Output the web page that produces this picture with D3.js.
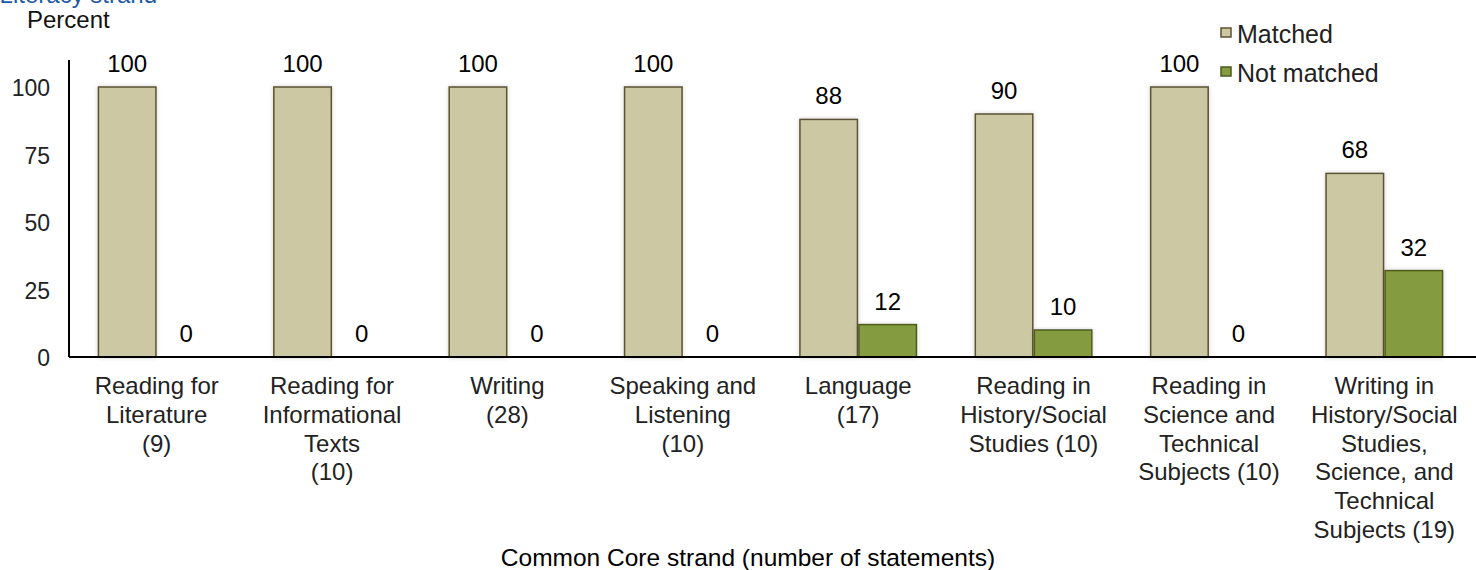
<!DOCTYPE html>
<html><head><meta charset="utf-8">
<script src="https://cdn.jsdelivr.net/npm/d3@7"></script>
<style>body{margin:0;background:#fff}svg{display:block}text{font-family:"Liberation Sans",Arial,Helvetica,sans-serif;fill:#111}</style>
</head><body><svg id="c" width="1476" height="570"></svg>
<script>
const categories = [
  ["Reading for","Literature","(9)"],
  ["Reading for","Informational","Texts","(10)"],
  ["Writing","(28)"],
  ["Speaking and","Listening","(10)"],
  ["Language","(17)"],
  ["Reading in","History/Social","Studies (10)"],
  ["Reading in","Science and","Technical","Subjects (10)"],
  ["Writing in","History/Social","Studies,","Science, and","Technical","Subjects (19)"]
];
const seriesNames = ["Matched","Not matched"];
const matched =    [100,100,100,100,88,90,100,68];
const notMatched = [0,0,0,0,12,10,0,32];
const yTicks = [0,25,50,75,100];

(function(){
const fills = ["#cdc8a4","#859b3f"];
const strokes = ["#5b5230","#4e5a1f"];

const svg = d3.select("#c");
const mLeft = 69, mRight = 1472, mTop = 60, base = 357;
const x = d3.scaleBand().domain(d3.range(categories.length)).range([mLeft,mRight]).paddingInner(0).paddingOuter(0);
const inner = d3.scaleBand().domain([0,1]).range([0, 118]);
const off = (x.bandwidth()-118)/2;
const y = d3.scaleLinear().domain([0,100]).range([base, 87]);

const defs = svg.append("defs");
const f = defs.append("filter").attr("id","sh").attr("x","-20%").attr("y","-10%").attr("width","140%").attr("height","120%");
f.append("feDropShadow").attr("dx",0).attr("dy",0).attr("stdDeviation",2).attr("flood-color","#000").attr("flood-opacity",0.18);

svg.append("text").attr("x",157).attr("y",3).attr("text-anchor","end").style("font-size","24px").style("fill","#1f5aa6").text("Literacy strand");
svg.append("text").attr("x",27).attr("y",28).style("font-size","24px").text("Percent");

svg.append("line").attr("x1",mLeft).attr("x2",mLeft).attr("y1",mTop).attr("y2",base).attr("stroke","#000").attr("stroke-width",2);
svg.selectAll(".yt").data(yTicks).enter().append("text")
  .attr("x",50).attr("y",d=>y(d)+9).attr("text-anchor","end").style("font-size","23px").style("fill","#222").text(d=>d);

const data = categories.map((c,i)=>({i, vals:[matched[i], notMatched[i]]}));
const g = svg.selectAll(".grp").data(data).enter().append("g").attr("transform",d=>`translate(${x(d.i)+off},0)`);
g.selectAll("rect").data(d=>d.vals.map((v,k)=>({v,k})).filter(e=>e.v>0)).enter().append("rect")
  .attr("x",d=>inner(d.k)+0.75).attr("width",inner.bandwidth()-1.5)
  .attr("y",d=>y(d.v)).attr("height",d=>base-y(d.v))
  .attr("fill",d=>fills[d.k]).attr("stroke",d=>strokes[d.k]).attr("stroke-width",1.5)
  .attr("filter","url(#sh)");
g.selectAll(".lbl").data(d=>d.vals.map((v,k)=>({v,k}))).enter().append("text")
  .attr("x",d=>inner(d.k)+inner.bandwidth()/2).attr("y",d=>y(d.v)-15)
  .attr("text-anchor","middle").style("font-size","24px").style("fill","#000").text(d=>d.v);

svg.append("line").attr("x1",mLeft).attr("x2",1476).attr("y1",base).attr("y2",base).attr("stroke","#000").attr("stroke-width",2);
svg.selectAll(".xl").data(categories).enter().append("text")
  .attr("text-anchor","middle").style("font-size","24px").style("fill","#222")
  .attr("transform",(d,i)=>`translate(${x(i)+x.bandwidth()/2},394)`)
  .each(function(d){
    d3.select(this).selectAll("tspan").data(d).enter().append("tspan")
      .attr("x",0).attr("y",(t,j)=>j*28.8).text(t=>t);
  });
svg.append("text").attr("x",748).attr("y",566).attr("text-anchor","middle").style("font-size","24.5px").style("fill","#000").text("Common Core strand (number of statements)");

const lg = svg.selectAll(".lg").data(seriesNames).enter().append("g").attr("transform",(d,i)=>`translate(1221,${28+i*39})`);
lg.append("rect").attr("width",10).attr("height",9).attr("fill",(d,i)=>fills[i]).attr("stroke",(d,i)=>strokes[i]).attr("stroke-width",1.5);
lg.append("text").attr("x",16).attr("y",15).style("font-size","25px").style("fill","#222").text(d=>d);
})();
</script></body></html>
